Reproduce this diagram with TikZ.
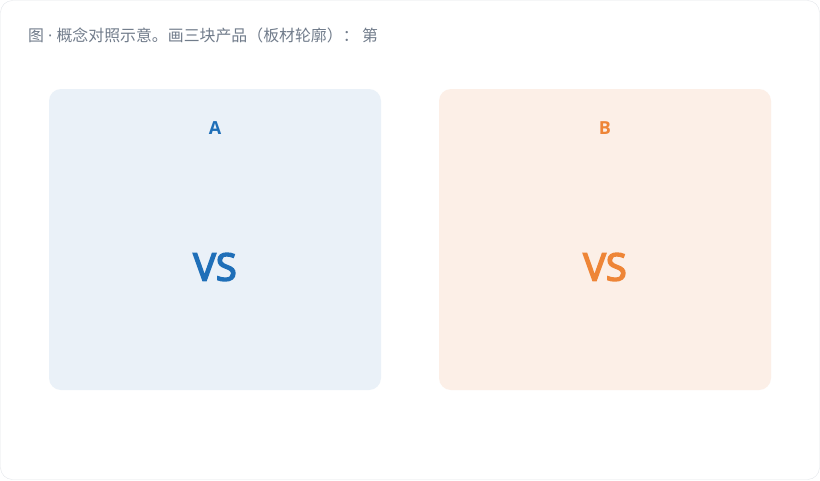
\documentclass[tikz,border=0pt]{standalone}
\usepackage{fontspec}
\setmainfont{Open Sans}
\newfontfamily\cjk{Noto Sans CJK SC}
\newfontfamily\latin{Open Sans}
\newfontfamily\semib{Open Sans}[FakeBold=4]
\definecolor{frame}{HTML}{E3E6EA}
\definecolor{titlec}{HTML}{717C8B}
\definecolor{blueA}{HTML}{1F6FB8}
\definecolor{fillA}{HTML}{EAF1F8}
\definecolor{orangeB}{HTML}{EE8537}
\definecolor{fillB}{HTML}{FCEFE7}
\tikzset{
  panel/.style={rounded corners=12pt, inner sep=0pt, minimum width=332pt, minimum height=301pt},
  lab/.style={font=\bfseries\fontsize{18}{20}\selectfont},
  vs/.style={font=\semib\fontsize{38}{42}\selectfont}
}
\begin{document}
\begin{tikzpicture}[x=1pt,y=-1pt]
\useasboundingbox (0,0) rectangle (820,480);
\draw[frame, fill=white, rounded corners=12pt] (0.5,0.5) rectangle (819.5,479.5);
\node[anchor=west, text=titlec, font=\cjk\fontsize{15.9}{18}\selectfont, inner sep=0pt] (title) at (28,35) {图{\latin\ ·\ }概念对照示意。画三块产品（板材轮廓）： 第};
\node[panel, fill=fillA] (pa) at (215,239.5) {};
\node[panel, fill=fillB] (pb) at (605,239.5) {};
\node[lab, text=blueA] (la) at (215,128) {A};
\node[lab, text=orangeB] (lb) at (605,128) {B};
\node[vs, text=blueA] (va) at (215,267) {VS};
\node[vs, text=orangeB] (vb) at (605,267) {VS};
\end{tikzpicture}
\end{document}
